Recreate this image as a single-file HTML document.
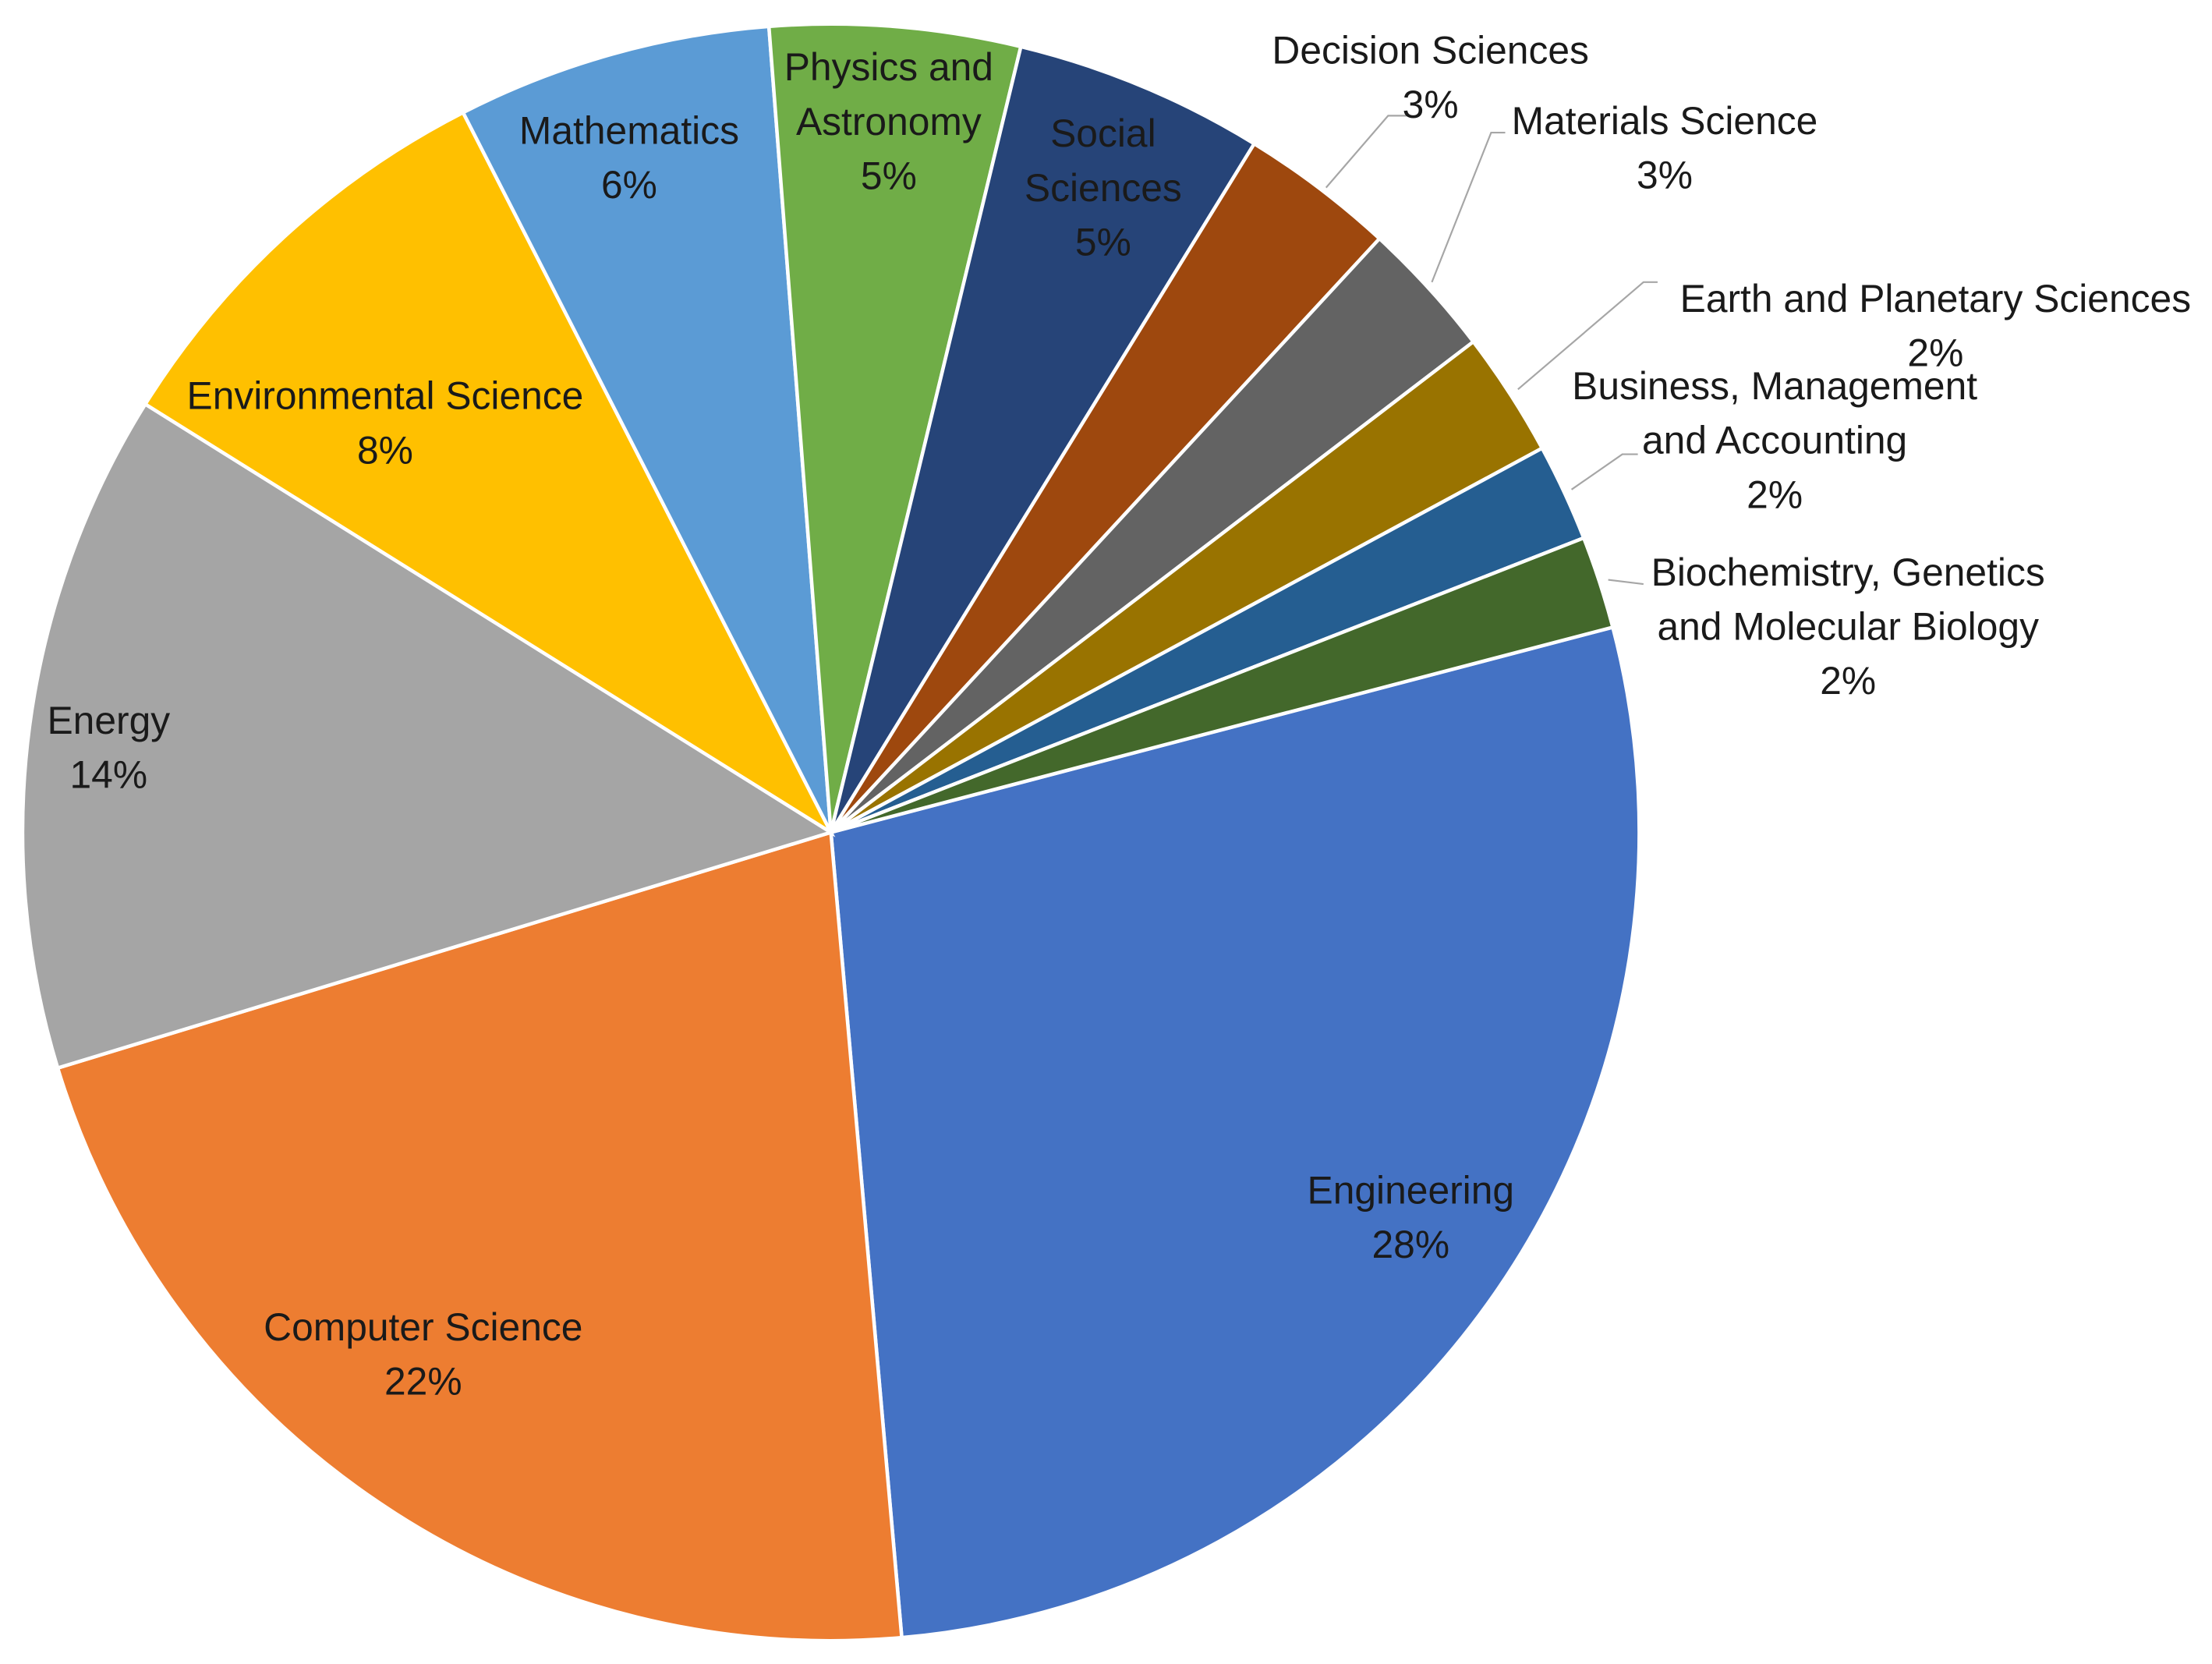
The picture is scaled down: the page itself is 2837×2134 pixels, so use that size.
<!DOCTYPE html>
<html><head><meta charset="utf-8"><style>
html,body{margin:0;padding:0;background:#fff;}
svg{display:block;}
text{font-family:"Liberation Sans",sans-serif;font-size:27.5px;fill:#1a1a1a;text-anchor:middle;}
</style></head><body>
<svg id="chart" width="2837" height="2134" viewBox="0 0 1568 1179.5" preserveAspectRatio="none" xmlns="http://www.w3.org/2000/svg">
<g id="slices"></g>
<g id="leaders" stroke="#a6a6a6" stroke-width="1.2" fill="none">
<polyline points="940,133 984,82 997,82"/>
<polyline points="1015,200 1057,94 1067,94"/>
<polyline points="1076,276 1165,200 1175,200"/>
<polyline points="1114,347 1150,322 1161,322"/>
<polyline points="1140,411 1165,414"/>
</g>
<g id="labels"></g>
</svg>
<script>
const categories = ["Engineering","Computer Science","Energy","Environmental Science","Mathematics","Physics and Astronomy","Social Sciences","Decision Sciences","Materials Science","Earth and Planetary Sciences","Business, Management and Accounting","Biochemistry, Genetics and Molecular Biology"];
const values = [27.7,21.7,13.6,8.6,6.3,5.0,5.0,3.1,2.75,2.5,1.95,1.85];
const percentLabels = ["28%","22%","14%","8%","6%","5%","5%","3%","3%","2%","2%","2%"];
const colors = ["#4472C4","#ED7D31","#A5A5A5","#FFC000","#5B9BD5","#70AD47","#264478","#9E480E","#636363","#997300","#255E91","#43682B"];
const labelLines = [["Engineering"],["Computer Science"],["Energy"],["Environmental Science"],["Mathematics"],["Physics and","Astronomy"],["Social","Sciences"],["Decision Sciences"],["Materials Science"],["Earth and Planetary Sciences"],["Business, Management","and Accounting"],["Biochemistry, Genetics","and Molecular Biology"]];
const labelPos = [[1000,853],[300,950],[77,520],[273,290],[446,102],[630,57],[782,104],[1014,45],[1180,95],[1372,221],[1258,283],[1310,415]];
const cx=589, cy=590, r=573, startDeg=-14.7;
const NS="http://www.w3.org/2000/svg";
const total = values.reduce((a,b)=>a+b,0);
function angleFor(cum){ return (startDeg + cum/total*360)*Math.PI/180; }
const gS=document.getElementById('slices');
let cum=0;
values.forEach((v,i)=>{
  const a0=angleFor(cum), a1=angleFor(cum+v); cum+=v;
  const x0=cx+r*Math.cos(a0), y0=cy+r*Math.sin(a0), x1=cx+r*Math.cos(a1), y1=cy+r*Math.sin(a1);
  const large=(a1-a0)>Math.PI?1:0;
  const p=document.createElementNS(NS,'path');
  p.setAttribute('d',`M${cx},${cy} L${x0},${y0} A${r},${r} 0 ${large} 1 ${x1},${y1} Z`);
  p.setAttribute('fill',colors[i]);
  p.setAttribute('stroke','#fff');
  p.setAttribute('stroke-width','2.5');
  
  
  gS.appendChild(p);
});
const gL=document.getElementById('labels');
labelLines.forEach((lines,i)=>{
  const t=document.createElementNS(NS,'text');
  
  
  const all=lines.concat([percentLabels[i]]);
  all.forEach((s,k)=>{
    const ts=document.createElementNS(NS,'tspan');
    ts.setAttribute('x',labelPos[i][0]);
    ts.setAttribute('y',labelPos[i][1]+k*38.5);
    ts.textContent=s;
    t.appendChild(ts);
  });
  gL.appendChild(t);
});
</script>
</body></html>
